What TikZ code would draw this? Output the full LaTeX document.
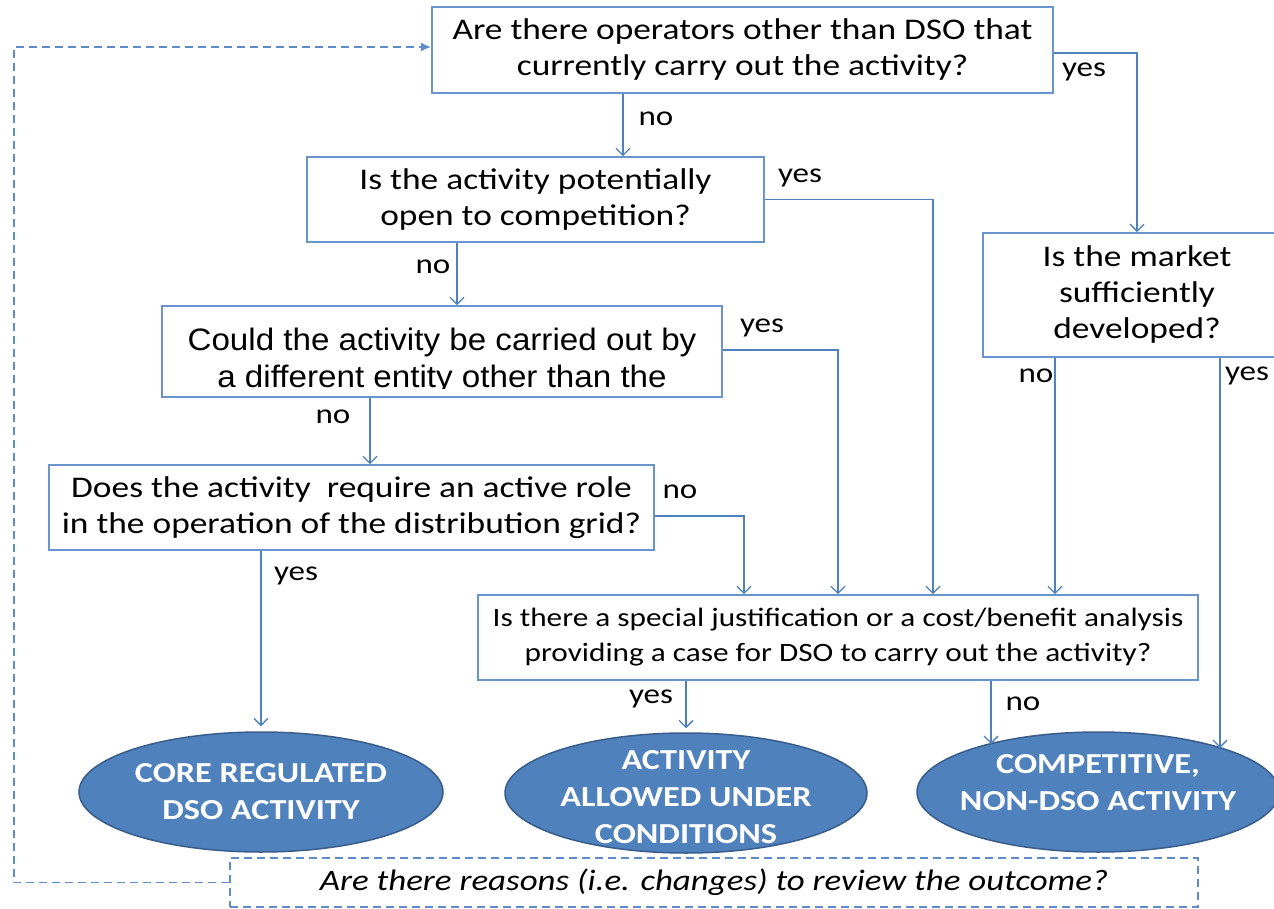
\documentclass[tikz,border=0pt]{standalone}
\usepackage{fontspec}
\setmainfont{Carlito}
\newfontfamily\calf[FakeStretch=1.18]{Carlito}
\newfontfamily\arialf[FakeStretch=1.07]{Liberation Sans}
\usetikzlibrary{shapes.geometric,arrows.meta,calc}
\definecolor{lblue}{RGB}{79,129,189}
\definecolor{bord}{RGB}{105,148,205}
\definecolor{efill}{RGB}{79,129,189}
\definecolor{edraw}{RGB}{56,93,138}
\definecolor{dashc}{RGB}{95,140,200}
\begin{document}
\begin{tikzpicture}[x=1pt,y=-1pt,
  qbox/.style={draw=bord,line width=1.8pt,rectangle,inner sep=0pt,align=center,
    font=\calf\fontsize{30}{36}\selectfont},
  oval/.style={ellipse,fill=efill,draw=edraw,line width=1.5pt,inner sep=0pt},
  ovtext/.style={text=white,align=center,font=\calf\bfseries\fontsize{29}{37}\selectfont},
  conn/.style={draw=lblue,line width=1.5pt,-{Straight Barb[length=7pt,width=14pt,line width=1.3pt]}},
  lab/.style={font=\calf\fontsize{28}{30}\selectfont,inner sep=0pt},
  dashline/.style={draw=dashc,line width=1.8pt,dash pattern=on 8pt off 5pt}
]
\useasboundingbox (0,0) rectangle (1274,909);
\fill[white] (0,0) rectangle (1274,909);

% question boxes
\node[qbox,minimum width=621pt,minimum height=86pt] (A) at (742.5,50)
  {Are there operators other than DSO that\\currently carry out the activity?};
\node[qbox,minimum width=457pt,minimum height=85pt] (B) at (535.5,199.5)
  {Is the activity potentially\\open to competition?};
\node[qbox,minimum width=560pt,minimum height=91pt] (C) at (442,351.5) {};
\begin{scope}
  \clip (C.north west) rectangle ([yshift=9pt]C.south east);
  \node[font=\arialf\fontsize{31}{37}\selectfont,anchor=base,inner sep=0pt] (Ct1) at (442,350) {Could the activity be carried out by};
  \node[font=\arialf\fontsize{31}{37}\selectfont,anchor=base,inner sep=0pt] (Ct2) at (442,387) {a different entity other than the};
\end{scope}
\node[qbox,minimum width=605pt,minimum height=85pt] (D) at (351.5,507.5)
  {Does the activity\ \ require an active role\\in the operation of the distribution grid?};
\node[qbox,minimum width=308pt,minimum height=124pt] (M) at (1137,295)
  {Is the market\\sufficiently\\developed?};
\node[qbox,minimum width=720pt,minimum height=85pt,font=\calf\fontsize{26.5}{35}\selectfont] (J) at (838,637.5)
  {Is there a special justification or a cost/benefit analysis\\providing a case for DSO to carry out the activity?};

% outcome ellipses
\node[oval,minimum width=364pt,minimum height=120pt] (E1) at (261,792) {};
\node[ovtext] (E1t) at (E1.center) {CORE REGULATED\\DSO ACTIVITY};
\node[oval,minimum width=362pt,minimum height=120pt] (E2) at (686,793) {};
\node[ovtext] (E2t) at ([yshift=-4pt]E2.center) {ACTIVITY\\ALLOWED UNDER\\CONDITIONS};
\node[oval,minimum width=362pt,minimum height=120pt] (E3) at (1098,792) {};
\node[ovtext] (E3t) at ([yshift=9pt]E3.center) {COMPETITIVE,\\NON-DSO ACTIVITY};

% review box
\node[dashline,minimum width=968pt,minimum height=49pt,inner sep=0pt,
  font=\calf\itshape\fontsize{29.6}{32}\selectfont] (R) at (714,882.5)
  {Are there reasons (i.e. changes) to review the outcome?};

% connectors
\draw[conn] ([xshift=-119.5pt]A.south) -- ([xshift=-119.5pt]A.south |- B.north);
\draw[conn] ([yshift=-3pt]A.east) -| (M.north);
\draw[conn] (B.east) -| ([xshift=95pt]J.north);
\draw[conn] ([xshift=-78.5pt]B.south) -- ([xshift=-78.5pt]B.south |- C.north);
\draw[conn] ([yshift=1.5pt]C.east) -| (J.north);
\draw[conn] ([xshift=-72pt]C.south) -- ([xshift=-72pt]C.south |- D.north);
\draw[conn] ([yshift=-8.5pt]D.east) -| ([xshift=-94pt]J.north);
\draw[conn,shorten >=5pt] ([xshift=-90.5pt]D.south) -- (E1.north);
\draw[conn] ([xshift=-82pt]M.south) -- ([xshift=-82pt]M.south |- J.north);
\draw[conn] ([xshift=83pt]M.south) -- ([xshift=122pt,yshift=44pt]E3.center);
\draw[conn,shorten >=4pt] ([xshift=-152pt]J.south) -- (E2.north);
\draw[conn] ([xshift=153pt]J.south) -- ([xshift=-107pt,yshift=48pt]E3.center);

% feedback loop
\coordinate (fb) at (14,47);
\draw[dashline,-{Latex[length=10pt,width=9pt]}]
  (R.west) -| (fb) -- ([yshift=3pt]A.west);

% labels
\node[lab] (l1) at (656,119) {no};
\node[lab] (l2) at (1084,72) {yes};
\node[lab] (l3) at (800,178) {yes};
\node[lab] (l4) at (433,267) {no};
\node[lab] (l5) at (762,328) {yes};
\node[lab] (l6) at (333,417) {no};
\node[lab] (l7) at (680,492) {no};
\node[lab] (l8) at (296,576) {yes};
\node[lab] (l9) at (1036,376) {no};
\node[lab] (l10) at (1247,376) {yes};
\node[lab] (l11) at (651,699) {yes};
\node[lab] (l12) at (1023,704) {no};
\end{tikzpicture}
\end{document}
